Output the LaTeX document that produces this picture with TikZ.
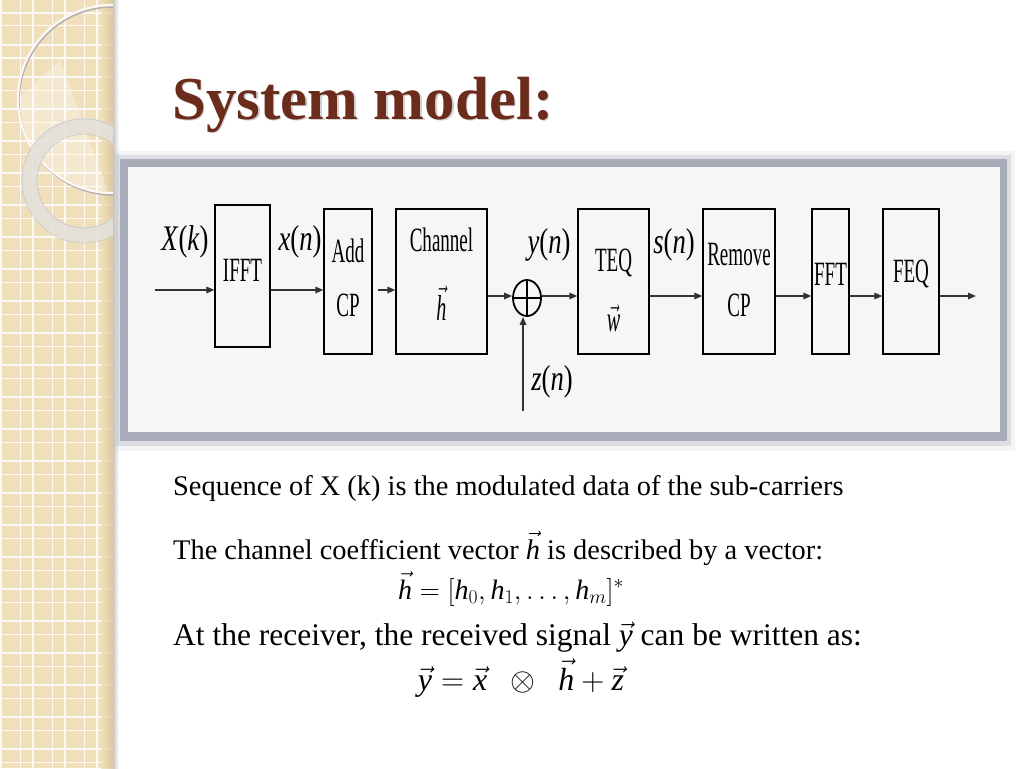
\documentclass[tikz,border=0pt]{standalone}
\usepackage{fix-cm}
\usepackage{fontspec}
\setmainfont{Liberation Serif}
\usetikzlibrary{arrows.meta,positioning,shapes.geometric}

\definecolor{stripbeige}{HTML}{F0DFBA}
\definecolor{stripedge}{HTML}{D6C39B}
\definecolor{ringgray}{HTML}{E4E1DA}
\definecolor{titlebrown}{HTML}{6B2C1C}
\definecolor{framegray}{HTML}{A8ACB9}
\definecolor{panelgray}{HTML}{F6F6F6}

% condensed lettering of the scanned diagram
\newcommand{\cond}[1]{\scalebox{0.56}[1]{#1}}
\newcommand{\condlbl}[1]{\scalebox{0.74}[1]{#1}}
\newcommand{\vi}[1]{\textit{#1}}

\tikzset{
  block/.style={draw=black, line width=1.3pt, inner sep=0pt},
  blocktext/.style={font=\fontsize{34}{36}\selectfont, inner sep=0pt},
  lbl/.style={font=\fontsize{36}{38}\selectfont, inner sep=0pt},
  sig/.style={-{Triangle[length=8pt,width=6.5pt]}, line width=1.6pt, draw=black!80},
  bodytext/.style={font=\fontsize{28.4}{30}\selectfont, inner sep=0pt, anchor=base west},
  eqtext/.style={font=\fontsize{28}{30}\selectfont, inner sep=0pt, anchor=base}
}

\begin{document}
\begin{tikzpicture}[x=1pt, y=-1pt]
  \useasboundingbox (0,0) rectangle (1024,768);
  \fill[white] (0,0) rectangle (1024,768);

  % left strip
  \fill[stripbeige] (0,0) rectangle (113,768);
  \foreach \k in {0,...,3} {
    \draw[white!85!stripbeige, line width=1.2pt] (1+32*\k,0) -- (1+32*\k,768);
    \draw[white!85!stripbeige, line width=1pt] (20+32*\k,0) -- (20+32*\k,768);
  }
  \foreach \k in {0,...,23} {
    \draw[white!85!stripbeige, line width=1.2pt] (0,13+32*\k) -- (113,13+32*\k);
    \draw[white!85!stripbeige, line width=1pt] (0,26+32*\k) -- (113,26+32*\k);
  }
  \shade[left color=stripbeige, right color=stripedge, opacity=0.8] (101,0) rectangle (113,768);
  \shade[left color=black!22, right color=white] (113,0) rectangle (119,768);

  % circles on the strip
  \begin{scope}
    \clip (0,0) rectangle (113,768);
    \fill[white, opacity=0.3] (112,99) ++(180:94) arc[start angle=180, end angle=92, radius=94] -- (60,60) -- cycle;
    \draw[black!30, line width=1.5pt] (113,101) circle[radius=94];
    \draw[white!85!stripbeige, line width=2pt] (112,99) circle[radius=94];
    \fill[ringgray, opacity=0.9, even odd rule] (84,180) circle[radius=62] (84,180) circle[radius=47];
    \draw[black!20, line width=0.8pt] (84,181) circle[radius=62];
    \draw[black!20, line width=0.8pt] (84,181) circle[radius=47];
  \end{scope}

  % title
  \node[font=\fontsize{61}{64}\selectfont\bfseries, text=black!18, anchor=base west, inner sep=0pt] at (173.5,120.5) {System model:};
  \node[font=\fontsize{61}{64}\selectfont\bfseries, text=titlebrown, anchor=base west, inner sep=0pt] (title) at (172,119) {System model:};

  % frame of the diagram
  \fill[framegray, opacity=0.12] (113,151) rectangle (1015,451);
  \fill[framegray, opacity=0.3] (116,155) rectangle (1011,446);
  \fill[framegray] (120,159) rectangle (1007,441);
  \fill[panelgray] (128,167) rectangle (1000,432);

  % blocks
  \node[block, minimum width=55pt, minimum height=142pt] (ifft) at (242.5,276) {};
  \node[block, minimum width=48pt, minimum height=145pt] (addcp) at (348,281.5) {};
  \node[block, minimum width=91pt, minimum height=145pt] (chan) at (441.5,281.5) {};
  \node[block, minimum width=71pt, minimum height=145pt] (teq) at (613.5,281.5) {};
  \node[block, minimum width=72pt, minimum height=145pt] (remcp) at (739,281.5) {};
  \node[block, minimum width=37pt, minimum height=145pt] (fft) at (830.5,281.5) {};
  \node[block, minimum width=56pt, minimum height=145pt] (feq) at (911,281.5) {};
  \node[draw=black, ellipse, line width=1.8pt, minimum width=28pt, minimum height=36pt, inner sep=0pt] (sum) at (527,298) {};
  \draw[line width=1.8pt] (sum.north) -- (sum.south) (sum.west) -- (sum.east);

  % block texts
  \node[blocktext] (ifftT) at (242.5,270) {\cond{IFFT}};
  \node[blocktext] (addT) at (348,251) {\cond{Add}};
  \node[blocktext] (addcpT) at (348,305) {\cond{CP}};
  \node[blocktext] (chanT) at (441.5,240) {\cond{Channel}};
  \node[blocktext, font=\fontsize{36}{38}\selectfont] (chanh) at (441.5,303) {\cond{$\vec{\textit{h}}$}};
  \node[blocktext] (teqT) at (613.5,263) {\cond{TEQ}};
  \node[blocktext, font=\fontsize{36}{38}\selectfont] (teqw) at (613.5,318) {\cond{$\vec{\textit{w}}$}};
  \node[blocktext] (remT) at (739,255) {\cond{Remove}};
  \node[blocktext] (remcpT) at (739,305) {\cond{CP}};
  \node[blocktext] (fftT) at (830.5,274) {\cond{FFT}};
  \node[blocktext] (feqT) at (911,274) {\cond{FEQ}};

  % signal labels
  \node[lbl] (Xk) at (185,242) {\condlbl{\vi{X}(\vi{k})}};
  \node[lbl] (xn) at (300,242) {\condlbl{\vi{x}(\vi{n})}};
  \node[lbl] (yn) at (549,245) {\condlbl{\vi{y}(\vi{n})}};
  \node[lbl] (sn) at (674,245) {\condlbl{\vi{s}(\vi{n})}};
  \node[lbl] (zn) at (552,382) {\condlbl{\vi{z}(\vi{n})}};

  % connectors
  \coordinate (in) at (155,290);
  \coordinate (out) at (976,296);
  \coordinate (noise) at (523,411);
  \draw[sig] (in) -- (in -| ifft.west);
  \draw[sig] (in -| ifft.east) -- (in -| addcp.west);
  \draw[sig, shorten <=5pt] (in -| addcp.east) -- (in -| chan.west);
  \draw[sig] (out -| chan.east) -- (out -| sum.west);
  \draw[sig] (out -| sum.east) -- (out -| teq.west);
  \draw[sig] (out -| teq.east) -- (out -| remcp.west);
  \draw[sig] (out -| remcp.east) -- (out -| fft.west);
  \draw[sig] (out -| fft.east) -- (out -| feq.west);
  \draw[sig] (out -| feq.east) -- (out);
  \draw[sig] (noise) -- (noise |- sum.south);

  % text below the diagram
  \node[bodytext] (seq) at (173,495) {Sequence of X (k) is the modulated data of the sub-carriers};
  \node[bodytext] (coef) at (173,559) {The channel coefficient vector $\vec{\textit{h}}$ is described by a vector:};
  \node[eqtext] (heq) at (511,599) {$\vec{\vi{h}} = [\vi{h}_0, \vi{h}_1, \dots, \vi{h}_m]^{*}$};
  \node[bodytext, font=\fontsize{31.5}{33}\selectfont] (recv) at (173,645) {At the receiver, the received signal $\vec{\textit{y}}$ can be written as:};
  \node[eqtext, font=\fontsize{32}{34}\selectfont] (yeq) at (521,690) {$\vec{\vi{y}} = \vec{\vi{x}}\ \ \otimes\ \ \vec{\vi{h}} + \vec{\vi{z}}$};
\end{tikzpicture}
\end{document}
